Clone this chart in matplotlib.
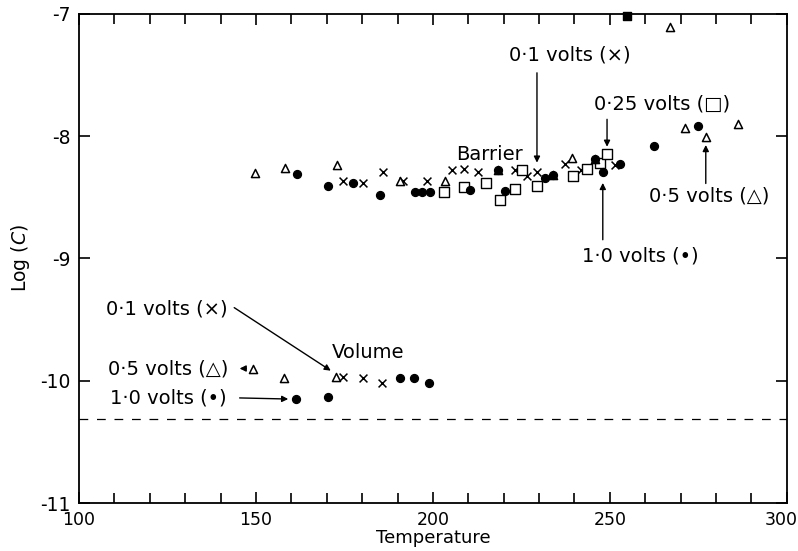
import numpy as np
import matplotlib
matplotlib.use("Agg")
import matplotlib.pyplot as plt
import matplotlib.transforms as mtransforms

plt.rcParams['font.family'] = ['DejaVu Sans']
plt.rcParams['axes.unicode_minus'] = False

# 0.1 volts (x)
t_x = [174.6, 180.2, 185.9, 191.5, 198.3, 205.4, 208.8, 212.7, 223.2, 226.6,
       229.4, 237.3, 241.8, 251.4, 174.6, 180.2, 185.6]
c_x = [-8.37, -8.38, -8.29, -8.37, -8.37, -8.28, -8.27, -8.29, -8.28, -8.33,
       -8.29, -8.23, -8.28, -8.24, -9.97, -9.98, -10.02]

# 0.25 volts (square)
t_sq = [203.1, 208.8, 215.0, 218.9, 223.2, 225.1, 229.4, 239.5, 243.5, 247.2, 249.2]
c_sq = [-8.46, -8.42, -8.38, -8.52, -8.43, -8.28, -8.41, -8.33, -8.27, -8.22, -8.15]
t_sq_top = [254.8]
c_sq_top = [-7.02]

# 0.5 volts (triangle)
t_tri = [149.7, 158.2, 172.9, 190.7, 203.4, 218.4, 233.9, 239.3, 245.8, 266.9,
         271.2, 277.1, 286.2, 149.2, 157.9, 172.6]
c_tri = [-8.30, -8.26, -8.24, -8.37, -8.37, -8.28, -8.32, -8.18, -8.19, -7.11,
         -7.93, -8.01, -7.90, -9.90, -9.98, -9.97]

# 1.0 volts (dot)
t_dot = [161.6, 170.3, 177.4, 185.0, 194.9, 196.9, 199.2, 210.5, 218.4, 220.3,
         231.6, 233.9, 245.8, 248.0, 252.8, 262.4, 274.9,
         161.3, 170.3, 190.7, 194.6, 198.9]
c_dot = [-8.31, -8.41, -8.38, -8.48, -8.46, -8.46, -8.46, -8.44, -8.28, -8.45,
         -8.34, -8.32, -8.19, -8.29, -8.23, -8.08, -7.92,
         -10.15, -10.13, -9.98, -9.98, -10.02]

baseline = -10.31

fig = plt.figure(figsize=(7.98, 5.51), dpi=100)
ax = fig.add_axes([0.099, 0.087, 0.887, 0.888])

ax.scatter(t_x, c_x, marker='x', s=32, c='black', linewidths=1.1, zorder=3)
ax.scatter(t_sq, c_sq, marker='s', s=45, facecolors='white', edgecolors='black',
           linewidths=1.0, zorder=3)
ax.scatter(t_sq_top, c_sq_top, marker='s', s=35, c='black', zorder=3, clip_on=False)
ax.scatter(t_tri, c_tri, marker='^', s=34, facecolors='white', edgecolors='black',
           linewidths=1.1, zorder=3)
ax.scatter(t_dot, c_dot, marker='o', s=32, c='black', zorder=4)

ax.axhline(baseline, color='black', lw=0.9, ls=(0, (7, 7)))

ax.set_xlim(100, 300)
ax.set_ylim(-11, -7)
ax.set_xticks([100, 150, 200, 250, 300])
ax.set_xticks(np.arange(100, 301, 10), minor=True)
ax.set_yticks([-11, -10, -9, -8, -7])
ax.set_yticklabels(['-11', '-10', '-9', '-8', '-7'])
ax.tick_params(axis='both', which='major', direction='in', length=8, width=1.2,
               labelsize=12.5, top=True, right=True, pad=6)
ax.tick_params(axis='y', labelsize=13.5)
ax.tick_params(axis='x', which='minor', direction='in', length=7, width=1.2, top=True)
for s in ax.spines.values():
    s.set_linewidth(1.3)

# keep the last x label inside the figure, as in the original
last = ax.get_xticklabels()[-1]
last.set_transform(last.get_transform() +
                   mtransforms.ScaledTranslation(-6 / 100, 0, fig.dpi_scale_trans))

ax.set_xlabel('Temperature', fontsize=13, labelpad=0)
ax.set_ylabel('Log ($C$)', fontsize=13.5, labelpad=6)

fs = 14
arrow = dict(arrowstyle='-|>', color='black', lw=1.0, mutation_scale=9)

ax.text(216.1, -8.15, 'Barrier', fontsize=fs, ha='center', va='center')
ax.text(181.6, -9.77, 'Volume', fontsize=fs, ha='center', va='center')

ax.text(238.7, -7.34, '0·1 volts (×)', fontsize=fs, ha='center', va='center')
ax.annotate('', xy=(229.4, -8.24), xytext=(229.4, -7.46), arrowprops=arrow)

ax.text(264.7, -7.74, '0·25 volts (□)', fontsize=fs, ha='center', va='center')
ax.annotate('', xy=(249.2, -8.11), xytext=(249.2, -7.84), arrowprops=arrow)

ax.text(278.2, -8.49, '0·5 volts (△)', fontsize=fs, ha='center', va='center')
ax.annotate('', xy=(277.1, -8.05), xytext=(277.1, -8.41), arrowprops=arrow)

ax.text(258.5, -8.98, '1·0 volts (•)', fontsize=fs, ha='center', va='center')
ax.annotate('', xy=(248.0, -8.36), xytext=(248.0, -8.87), arrowprops=arrow)

ax.text(124.9, -9.41, '0·1 volts (×)', fontsize=fs, ha='center', va='center')
ax.annotate('', xy=(171.8, -9.93), xytext=(143.2, -9.39), arrowprops=arrow)

ax.text(125.1, -9.90, '0·5 volts (△)', fontsize=fs, ha='center', va='center')
ax.annotate('', xy=(144.6, -9.90), xytext=(148.0, -9.90), arrowprops=arrow)

ax.text(125.1, -10.14, '1·0 volts (•)', fontsize=fs, ha='center', va='center')
ax.annotate('', xy=(159.9, -10.15), xytext=(144.6, -10.14), arrowprops=arrow)

fig.savefig('out.png', dpi=100)
